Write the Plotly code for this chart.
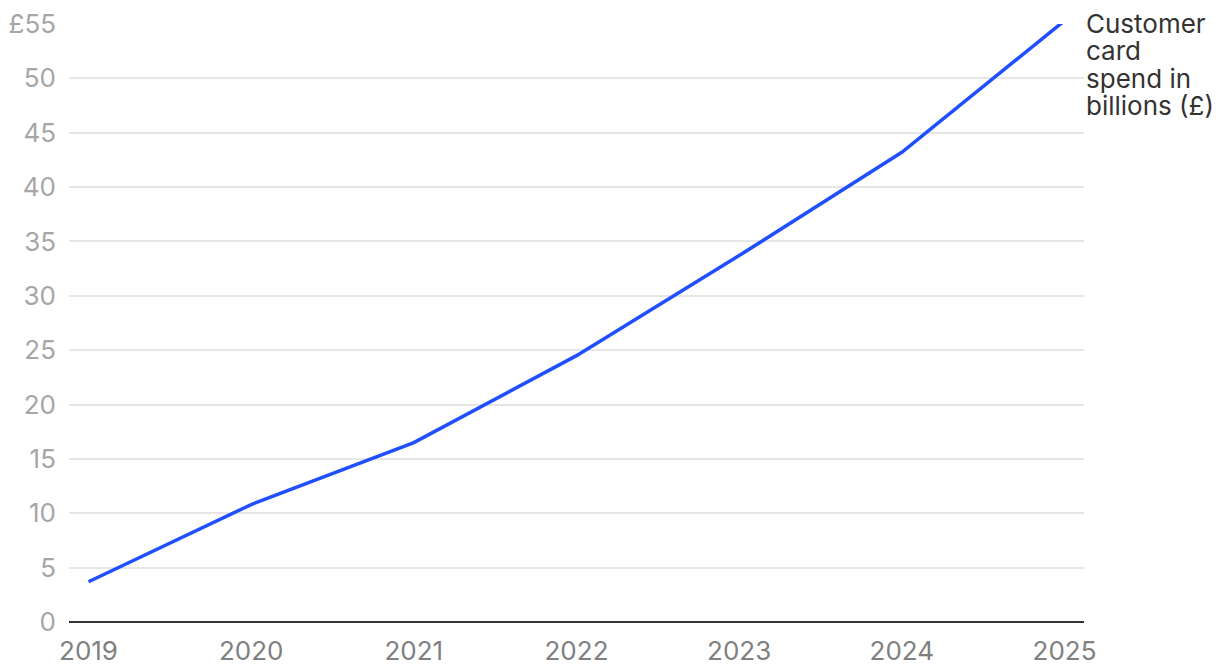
import plotly.graph_objects as go

years = [2019, 2020, 2021, 2022, 2023, 2024, 2025]
spend = [3.7, 10.8, 16.5, 24.5, 33.7, 43.2, 55.3]
y_ticks = [0, 5, 10, 15, 20, 25, 30, 35, 40, 45, 50, 55]
y_ticktext = ["0", "5", "10", "15", "20", "25", "30", "35", "40", "45", "50", "£55"]
label_lines = ["Customer", "card", "spend in", "billions (£)"]

FONT = "Inter"

fig = go.Figure()
fig.add_trace(go.Scatter(
    x=years, y=spend, mode="lines",
    line=dict(color="#1f4fff", width=3.5),
    cliponaxis=False, showlegend=False, hoverinfo="x+y",
))

for i, line in enumerate(label_lines):
    fig.add_annotation(
        x=1, xref="paper", y=1, yref="paper",
        text=line, showarrow=False,
        xanchor="left", yanchor="middle", align="left",
        xshift=0, yshift=1 - 27.5 * i,
        font=dict(family=FONT, size=26, color="#333333"),
    )

fig.update_layout(
    width=1212, height=664,
    margin=dict(l=61, r=136, t=16, b=50, autoexpand=False),
    paper_bgcolor="white", plot_bgcolor="white",
    font=dict(family=FONT),
    xaxis=dict(
        range=[2018.88, 2025.12], automargin=False,
        tickvals=years, ticktext=[str(y) for y in years],
        showgrid=False, zeroline=False, showline=False,
        ticks="", tickfont=dict(family=FONT, size=26, color="#808080"),
        ticklabelstandoff=11,
    ),
    yaxis=dict(
        range=[0, 55], automargin=False,
        tickvals=y_ticks, ticktext=y_ticktext,
        showgrid=True, gridcolor="#e6e6e6", gridwidth=1.5,
        zeroline=True, zerolinecolor="#333333", zerolinewidth=2,
        showline=False, ticks="",
        tickfont=dict(family=FONT, size=26, color="#a6a6a6"),
        ticklabelstandoff=12,
    ),
)

fig.write_html("out.html")
